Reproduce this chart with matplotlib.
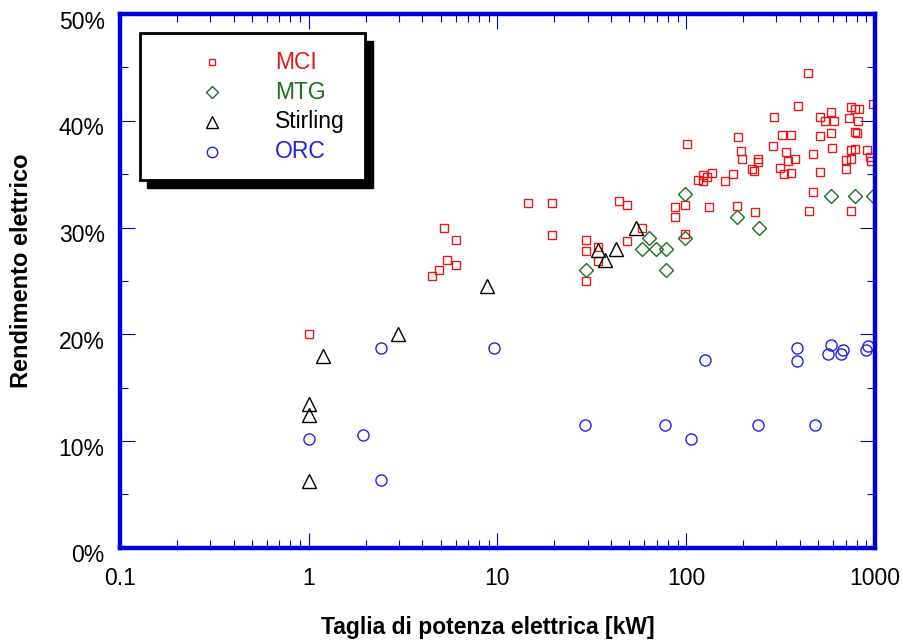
import numpy as np
import matplotlib
matplotlib.use("Agg")
import matplotlib.pyplot as plt
from matplotlib.patches import Rectangle
from matplotlib.transforms import ScaledTranslation
from matplotlib.ticker import FuncFormatter, LogLocator, MultipleLocator, NullFormatter

plt.rcParams["font.family"] = ["Liberation Sans", "DejaVu Sans"]

# size [kW], efficiency [%]
mci_kw = [1.0, 4.5, 4.9, 5.4, 5.2, 6.0, 6.0, 14.6, 19.5, 19.5,
          29.6, 29.6, 29.6, 34.2, 34.2, 44.2, 48.7, 48.7, 58.5,
          87, 87, 98.8, 99, 101, 116, 123, 129, 137, 123,
          132, 161, 177, 186, 188, 195, 198, 223, 229, 232, 240, 240,
          289, 292, 314, 322, 330, 338, 347, 360, 360, 377, 391,
          442, 448, 470, 470, 512, 512, 512, 543, 585, 585, 592, 607,
          703, 703, 728, 747, 747, 747, 747, 784, 784, 784, 800, 813, 823,
          907, 942, 953, 975]
mci_eff = [20.0, 25.5, 26.0, 27.0, 30.0, 28.8, 26.5, 32.3, 32.3, 29.3,
           28.8, 27.8, 25.0, 28.2, 26.9, 32.5, 32.1, 28.7, 30.0,
           31.9, 31.0, 32.1, 29.4, 37.8, 34.5, 34.9, 34.7, 35.1, 34.4,
           31.9, 34.4, 35.0, 32.0, 38.5, 37.2, 36.4, 35.5, 35.3, 31.5, 36.4, 36.1,
           37.6, 40.4, 35.6, 38.7, 35.0, 37.1, 36.2, 38.7, 35.1, 36.4, 41.4,
           44.5, 31.6, 36.9, 33.3, 40.4, 38.6, 35.2, 40.0, 40.8, 38.9, 37.5, 40.0,
           36.3, 35.5, 40.3, 41.3, 37.3, 36.4, 31.6, 41.1, 39.0, 37.4, 38.9, 40.0, 41.1,
           37.3, 36.6, 36.2, 41.6]

mtg_kw = [29.6, 58.5, 63.7, 69.3, 78.4, 78.4, 98.8, 98.8, 186, 243, 585, 784, 975]
mtg_eff = [26.0, 28.0, 29.0, 28.0, 28.0, 26.0, 33.1, 29.0, 31.0, 30.0, 33.0, 33.0, 33.0]

stirling_kw = [1.0, 1.0, 1.0, 1.19, 2.96, 8.85, 34.2, 37.3, 42.6, 54.4]
stirling_eff = [6.3, 12.4, 13.5, 18.0, 20.0, 24.5, 27.9, 27.0, 28.0, 30.0]

orc_kw = [1.0, 1.93, 2.43, 2.43, 9.64, 29.2, 77.4, 106, 126, 240,
          387, 387, 482, 564, 585, 661, 677, 896, 918]
orc_eff = [10.2, 10.6, 18.7, 6.4, 18.7, 11.5, 11.5, 10.2, 17.6, 11.5,
           17.5, 18.7, 11.5, 18.2, 19.0, 18.2, 18.5, 18.5, 18.9]

labels = ["MCI", "MTG", "Stirling", "ORC"]
colors = ["#e31a1c", "#1e6e1e", "#000000", "#2020e6"]
markers = ["s", "D", "^", "o"]
sizes = [5.5, 7, 10, 8]
series = [(mci_kw, mci_eff), (mtg_kw, mtg_eff),
          (stirling_kw, stirling_eff), (orc_kw, orc_eff)]

axis_blue = "#0000d8"

fig = plt.figure(figsize=(9.02, 6.4), dpi=100)
ax = fig.add_axes([0.133, 0.144, 0.837, 0.834])

for (xs, ys), c, m, s in zip(series, colors, markers, sizes):
    ax.plot(xs, ys, linestyle="none", marker=m, markersize=s,
            markerfacecolor="none", markeredgecolor=c, markeredgewidth=1.0)

ax.set_xscale("log")
ax.set_xlim(0.1, 1000)
ax.set_ylim(0, 50)

ax.xaxis.set_major_locator(LogLocator(base=10, numticks=10))
ax.xaxis.set_minor_locator(LogLocator(base=10, subs=np.arange(2, 10), numticks=10))
ax.xaxis.set_minor_formatter(NullFormatter())
ax.xaxis.set_major_formatter(FuncFormatter(lambda v, p: f"{v:g}"))
ax.yaxis.set_major_locator(MultipleLocator(10))
ax.yaxis.set_minor_locator(MultipleLocator(5))
ax.yaxis.set_major_formatter(FuncFormatter(lambda v, p: f"{v:.0f}%"))

for sp in ax.spines.values():
    sp.set_color(axis_blue)
    sp.set_linewidth(3.2)

ax.tick_params(which="both", direction="in", top=True, right=True,
               color=axis_blue, labelsize=16.5, labelcolor="black")
ax.tick_params(which="major", length=11, width=0.8)
ax.tick_params(which="minor", length=6, width=0.8)
ax.tick_params(axis="x", which="major", pad=14)
ax.tick_params(axis="y", which="major", pad=11)

# y tick labels sit a little below their ticks in the original
shift = ScaledTranslation(0, -4 / 72, fig.dpi_scale_trans)
for lbl in ax.get_yticklabels():
    lbl.set_transform(lbl.get_transform() + shift)

ax.set_xlabel("Taglia di potenza elettrica [kW]", fontsize=16.5,
              fontweight="bold", va="center")
ax.set_ylabel("Rendimento elettrico", fontsize=17, fontweight="bold",
              va="center")
ax.xaxis.set_label_coords(0.487, -0.150)
ax.yaxis.set_label_coords(-0.131, 0.519)

# legend box with solid black shadow
tr = ax.transAxes
x0, y0, w, h = 0.026, 0.689, 0.299, 0.275
ax.add_patch(Rectangle((x0 + 0.010, y0 - 0.014), w, h, transform=tr,
                       facecolor="black", edgecolor="black", zorder=5))
ax.add_patch(Rectangle((x0, y0), w, h, transform=tr, facecolor="white",
                       edgecolor="black", linewidth=2, zorder=6))
row_y = [0.910, 0.854, 0.798, 0.742]
leg_sizes = [5, 6.5, 9, 7.5]
for lab, c, m, s, yy in zip(labels, colors, markers, leg_sizes, row_y):
    ax.plot([0.122], [yy], transform=tr, linestyle="none", marker=m,
            markersize=s, markerfacecolor="none", markeredgecolor=c,
            markeredgewidth=1.0, zorder=7, clip_on=False)
    ax.text(0.205, yy, lab, transform=tr, color=c, fontsize=16.5,
            va="center", ha="left", zorder=7)

fig.savefig("out.png", dpi=100)
